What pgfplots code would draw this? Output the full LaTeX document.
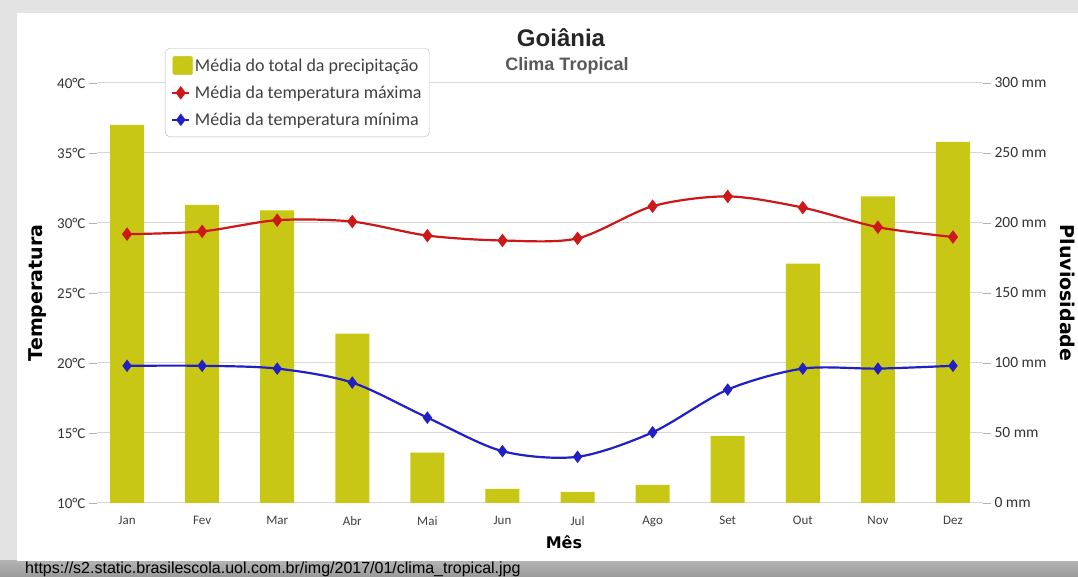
\documentclass[border=0pt]{standalone}
\usepackage{pgfplots}
\pgfplotsset{compat=1.18}
\usepackage{fontspec}
\setmainfont{Carlito}
\newfontfamily\dejab{DejaVu Sans}
\newfontfamily\libsans{Liberation Sans}
\definecolor{barcol}{RGB}{201,199,22}
\definecolor{maxcol}{RGB}{204,24,24}
\definecolor{mincol}{RGB}{32,32,196}
\definecolor{gridcol}{RGB}{215,215,215}
\begin{document}
\begin{tikzpicture}
\useasboundingbox (0,0) rectangle (1078pt,577pt);
\clip (0,0) rectangle (1078pt,577pt);
% frame
\fill[gray!22] (0,0) rectangle (1078pt,577pt);
\shade[top color=gray!60, bottom color=gray!80] (0,0) rectangle (1078pt,16pt);
\fill[white] (17pt,16pt) rectangle (1078pt,564pt);
\node[anchor=base west, inner sep=0pt, font=\libsans\fontsize{16}{18}\selectfont] at (25pt,3pt) {https://s2.static.brasilescola.uol.com.br/img/2017/01/clima\_tropical.jpg};

\pgfplotsset{
  common/.style={
    at={(97pt,74pt)}, anchor=south west,
    scale only axis, width=886pt, height=420pt,
    xmin=-0.4, xmax=11.4,
    axis line style={draw=none},
    /pgf/number format/assume math mode=true,
    tick align=outside,
    major tick length=8pt,
    clip=false,
  }
}

% bars (right axis)
\begin{axis}[common,
  ymin=0, ymax=300,
  axis y line*=right,
  axis x line*=bottom,
  ytick={0,50,...,300},
  yticklabels={0 mm,50 mm,100 mm,150 mm,200 mm,250 mm,300 mm},
  ymajorgrids, grid style={gridcol, line width=1pt},
  y tick style={gray!60, line width=0.8pt},
  x tick style={draw=none},
  xtick={0,...,11},
  xticklabels={Jan,Fev,Mar,Abr,Mai,Jun,Jul,Ago,Set,Out,Nov,Dez},
  x tick label style={font=\fontsize{13}{15}\selectfont, text=black!75, yshift=-2pt},
  y tick label style={font=\fontsize{15.5}{17}\selectfont, text=black!80},
  xlabel={Mês},
  every axis x label/.style={at={(axis description cs:0.527,-0.093)}, anchor=center, font=\dejab\bfseries\fontsize{16}{18}\selectfont},
  ylabel={Pluviosidade},
  every axis y label/.style={at={(axis description cs:1.0959,0.5)}, rotate=-90, anchor=center, font=\dejab\bfseries\fontsize{19}{21}\selectfont},
]
\addplot[ybar, bar width=34pt, bar shift=0pt, fill=barcol, draw=none] coordinates {
 (0,270) (1,213) (2,209) (3,121) (4,36) (5,10) (6,8) (7,13) (8,48) (9,171) (10,219) (11,258)
};
\end{axis}

% temperatures (left axis)
\begin{axis}[common,
  ymin=10, ymax=40,
  axis y line*=left,
  axis x line=none,
  ytick={10,15,...,40},
  yticklabels={10°C,15°C,20°C,25°C,30°C,35°C,40°C},
  y tick style={gray!60, line width=0.8pt},
  y tick label style={font=\fontsize{15}{17}\selectfont, text=black!80},
  ylabel={Temperatura},
  every axis y label/.style={at={(axis description cs:-0.0666,0.5)}, rotate=90, anchor=center, font=\dejab\bfseries\fontsize{19}{21}\selectfont},
  legend style={at={(0.0767,1.0833)}, anchor=north west, draw=gray!55, rounded corners=5pt,
    font=\fontsize{18}{20}\selectfont, text=black!75, row sep=9pt, inner xsep=6pt, inner ysep=8pt},
  legend cell align=left,
]
\addlegendimage{legend image code/.code={\fill[barcol, rounded corners=2pt] (0.02cm,-0.32cm) rectangle (0.72cm,0.32cm);}}
\addlegendentry{Média do total da precipitação}
\addplot[maxcol, line width=2.2pt, smooth, mark=diamond*, mark size=5pt, mark options={fill=maxcol}] coordinates {
 (0,29.2) (1,29.4) (2,30.2) (3,30.1) (4,29.1) (5,28.75) (6,28.9) (7,31.2) (8,31.9) (9,31.1) (10,29.7) (11,29.0)
};
\addlegendentry{Média da temperatura máxima}
\addplot[mincol, line width=2.2pt, smooth, mark=diamond*, mark size=4.5pt, mark options={fill=mincol}] coordinates {
 (0,19.8) (1,19.8) (2,19.6) (3,18.6) (4,16.1) (5,13.7) (6,13.3) (7,15.05) (8,18.1) (9,19.6) (10,19.6) (11,19.8)
};
\addlegendentry{Média da temperatura mínima}
\end{axis}

\node[font=\libsans\bfseries\fontsize{24}{26}\selectfont, text=black!85] at (561pt,539pt) {Goiânia};
\node[font=\libsans\bfseries\fontsize{18}{20}\selectfont, text=black!65] at (567pt,511pt) {Clima Tropical};
\end{tikzpicture}
\end{document}
